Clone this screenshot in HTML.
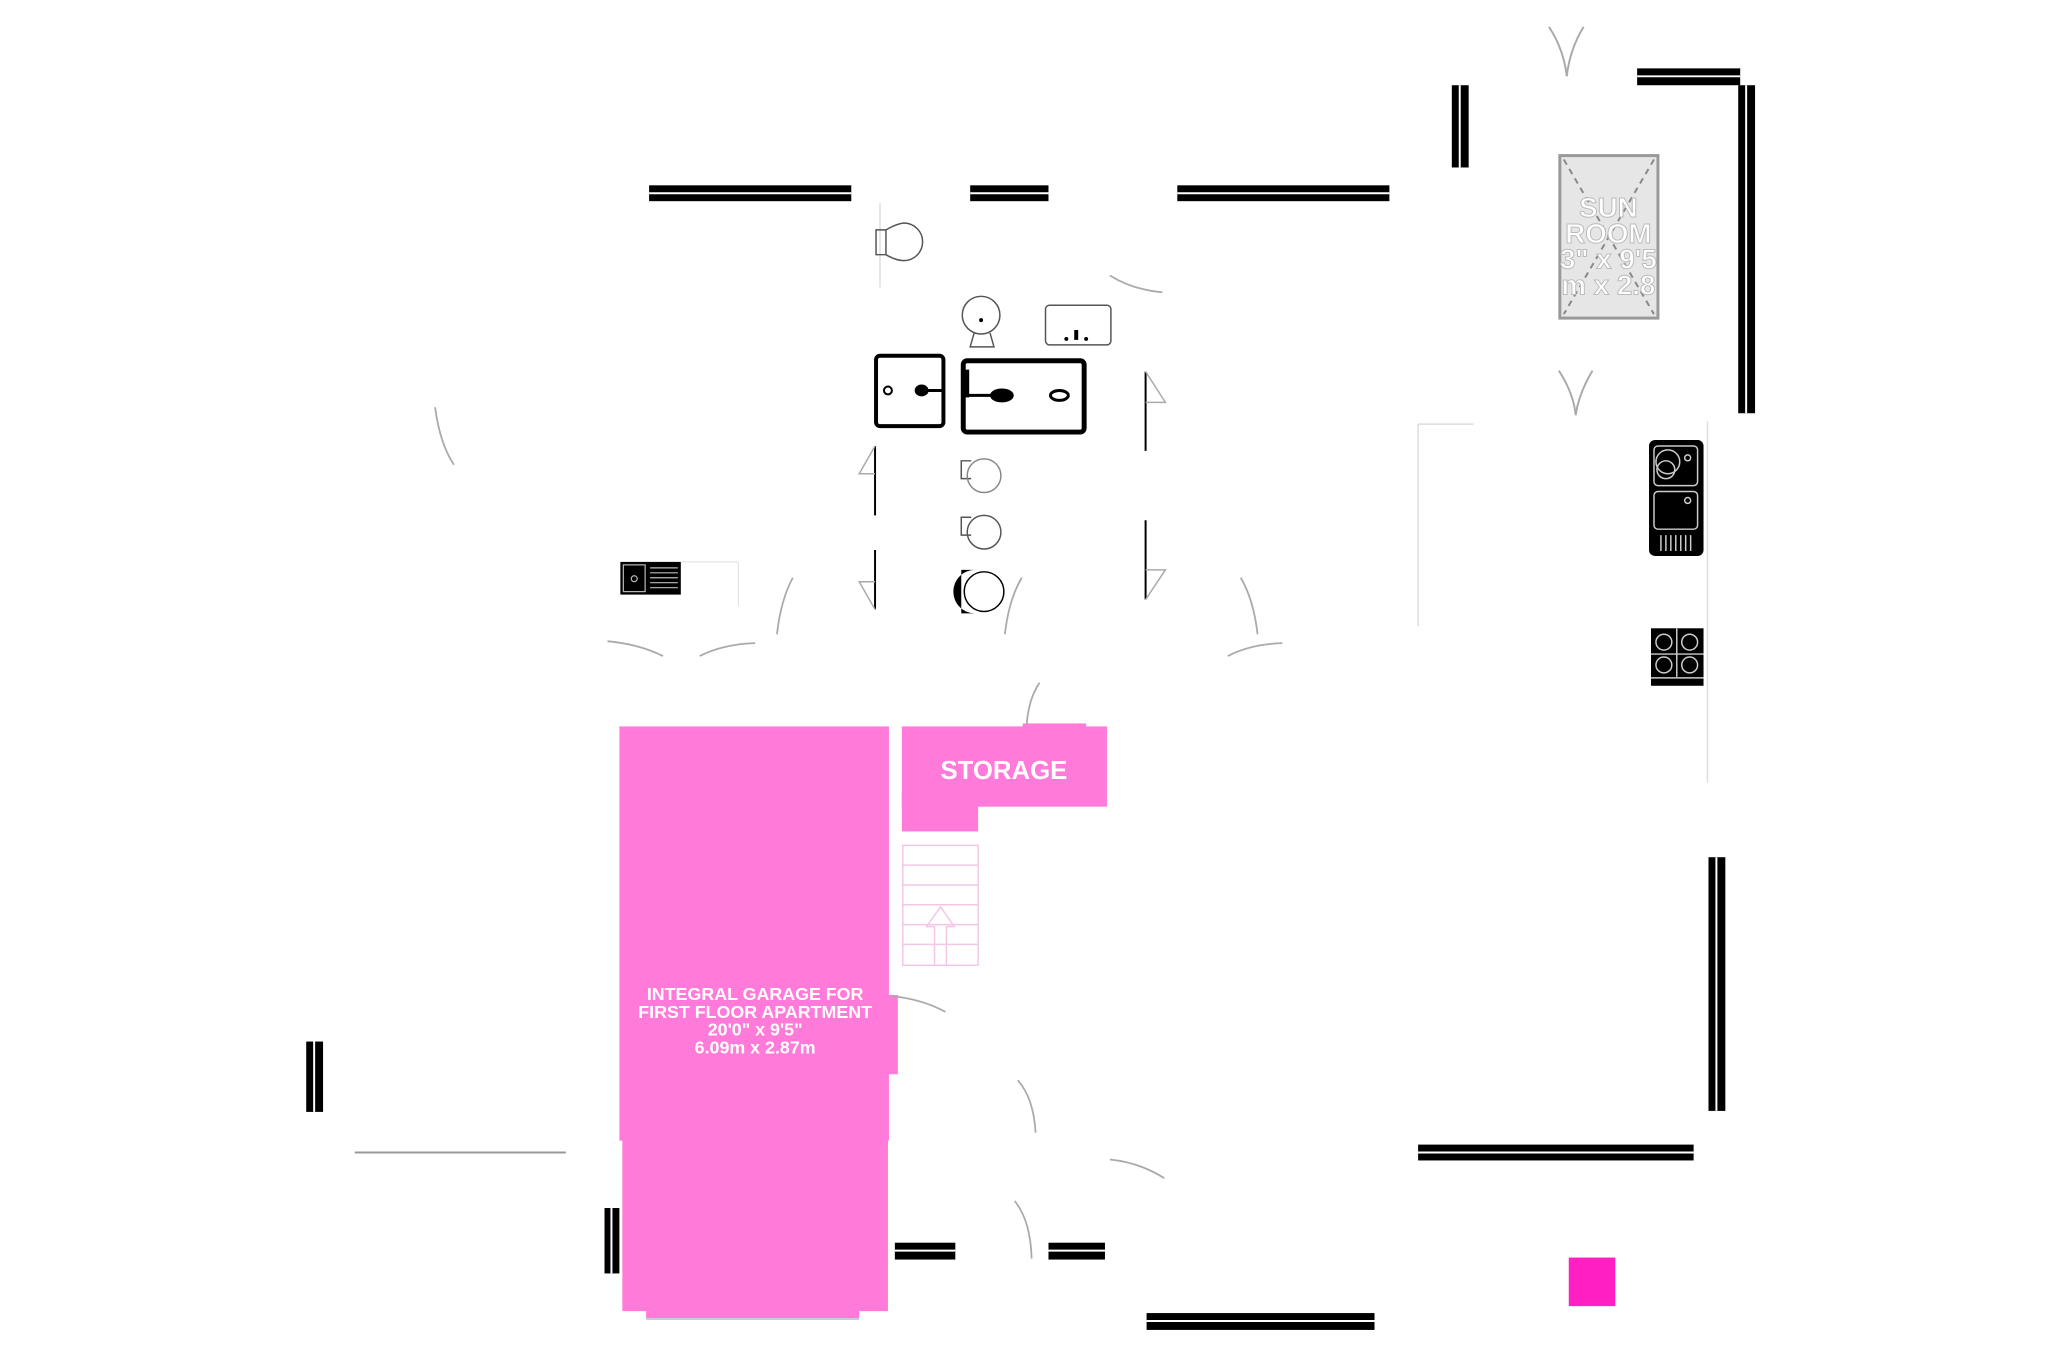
<!DOCTYPE html>
<html><head><meta charset="utf-8"><style>
html,body{margin:0;padding:0;background:#fff;}
svg{display:block}
text{font-family:"Liberation Sans",Arial,sans-serif;font-weight:bold;fill:#fff}
</style></head><body>
<svg width="2057" height="1371" viewBox="0 0 2057 1371" xmlns="http://www.w3.org/2000/svg">
<rect width="2057" height="1371" fill="#fff"/>
<g transform="scale(0.991)">
<!-- walls -->
<g fill="#000">
<rect x="655" y="187" width="204" height="16"/>
<rect x="979" y="187" width="79" height="16"/>
<rect x="1188" y="187" width="214" height="16"/>
<rect x="1465" y="86" width="17" height="83"/>
<rect x="1652" y="69" width="104" height="17"/>
<rect x="1754" y="86" width="17" height="331"/>
<rect x="1724" y="865" width="17" height="256"/>
<rect x="1431" y="1155" width="278" height="16"/>
<rect x="1157" y="1325" width="230" height="17"/>
<rect x="903" y="1254" width="61" height="17"/>
<rect x="1058" y="1254" width="57" height="17"/>
<rect x="610" y="1219" width="15" height="66"/>
<rect x="309" y="1051" width="17" height="71"/>
</g>
<g stroke="#fff" stroke-width="2">
<line x1="655" y1="195" x2="859" y2="195"/><line x1="979" y1="195" x2="1058" y2="195"/><line x1="1188" y1="195" x2="1402" y2="195"/>
<line x1="1473" y1="86" x2="1473" y2="169"/><line x1="1652" y1="77" x2="1756" y2="77"/><line x1="1762" y1="86" x2="1762" y2="417"/>
<line x1="1732" y1="865" x2="1732" y2="1121"/><line x1="1431" y1="1163" x2="1709" y2="1163"/><line x1="1157" y1="1333" x2="1387" y2="1333"/>
<line x1="903" y1="1262" x2="964" y2="1262"/><line x1="1058" y1="1262" x2="1115" y2="1262"/><line x1="617" y1="1219" x2="617" y2="1285"/><line x1="317" y1="1051" x2="317" y2="1122"/>
</g>
<line x1="358" y1="1163" x2="571" y2="1163" stroke="#999" stroke-width="2"/>
<!-- thin lines -->
<g stroke="#ddd" stroke-width="1.5" fill="none">
<line x1="1431" y1="428" x2="1431" y2="632"/><line x1="1431" y1="428" x2="1487" y2="428"/>
<line x1="1723" y1="425" x2="1723" y2="790"/>
<line x1="888" y1="205" x2="888" y2="290"/>
</g>
<!-- garage -->
<g fill="#ff7ad9">
<rect x="625" y="733" width="272" height="418"/>
<rect x="628" y="1145" width="268" height="178"/>
<rect x="652" y="1320" width="215" height="10"/>
<rect x="890" y="1004" width="16" height="80"/>
<rect x="910" y="733" width="207" height="81"/>
<rect x="910" y="800" width="77" height="39"/>
<rect x="1032" y="730" width="64" height="10"/>
</g>
<line x1="652" y1="1331" x2="867" y2="1331" stroke="#ccc" stroke-width="2"/>
<text x="1013" y="786" font-size="26" text-anchor="middle">STORAGE</text>
<g font-size="18" text-anchor="middle">
<text x="762" y="1009">INTEGRAL GARAGE FOR</text>
<text x="762" y="1027">FIRST FLOOR APARTMENT</text>
<text x="762" y="1045">20'0"  x 9'5"</text>
<text x="762" y="1063">6.09m  x 2.87m</text>
</g>
<!-- stairs -->
<g stroke="#f4c6e6" stroke-width="1.5" fill="none">
<rect x="911" y="853" width="76" height="121"/>
<line x1="911" y1="873" x2="987" y2="873"/><line x1="911" y1="893" x2="987" y2="893"/><line x1="911" y1="913" x2="987" y2="913"/><line x1="911" y1="933" x2="987" y2="933"/><line x1="911" y1="953" x2="987" y2="953"/>
<path d="M943 974 V935 H935 L949 915 L963 935 H955 V974"/>
</g>
<!-- sun room -->
<g transform="translate(8,0)">
<rect x="1566" y="157" width="99" height="164" fill="#e6e6e6" stroke="#999" stroke-width="3"/>
<g stroke="#888" stroke-width="2" stroke-dasharray="6,5"><line x1="1570" y1="161" x2="1661" y2="317"/><line x1="1661" y1="161" x2="1570" y2="317"/></g>
<g font-size="28" text-anchor="middle" stroke="#bbb" stroke-width="1" style="fill:#f4f4f4">
<text x="1615" y="219">SUN</text><text x="1615" y="245">ROOM</text><text x="1615" y="271">3" x 9'5</text><text x="1615" y="297">m  x 2.8</text></g>
</g>
<!-- V marks -->
<g stroke="#aaa" stroke-width="2" fill="none">
<path d="M1563 27 Q1578 50 1581 77 Q1584 50 1598 27"/>
<path d="M1573 374 Q1588 397 1590 419 Q1593 397 1607 374"/>
</g>
<!-- kitchen sink -->
<rect x="1664" y="444" width="55" height="117" rx="6" fill="#000"/>
<g stroke="#ccc" stroke-width="1.5" fill="none">
<rect x="1669" y="450" width="44" height="40" rx="4"/><circle cx="1683" cy="466" r="12"/><circle cx="1681" cy="474" r="9"/><circle cx="1703" cy="462" r="3"/>
<rect x="1669" y="496" width="44" height="38" rx="4"/><circle cx="1703" cy="505" r="3"/>
<path d="M1676 540 v16 M1681 540 v16 M1686 540 v16 M1691 540 v16 M1696 540 v16 M1701 540 v16 M1706 540 v16"/>
</g>
<!-- hob -->
<rect x="1666" y="634" width="53" height="58" fill="#000"/>
<g stroke="#ccc" stroke-width="1.5" fill="none">
<circle cx="1679" cy="648" r="8"/><circle cx="1705" cy="648" r="8"/><circle cx="1679" cy="671" r="8"/><circle cx="1705" cy="671" r="8"/>
<line x1="1666" y1="660" x2="1719" y2="660"/><line x1="1692" y1="634" x2="1692" y2="683"/><line x1="1666" y1="684" x2="1719" y2="684"/>
</g>
<!-- left sink -->
<rect x="626" y="567" width="61" height="33" fill="#000"/>
<g stroke="#bbb" stroke-width="1.2" fill="none"><rect x="629" y="570" width="22" height="27"/><circle cx="640" cy="584" r="3"/><path d="M656 573h28M656 578h28M656 583h28M656 588h28M656 593h28"/></g>
<line x1="687" y1="567" x2="745" y2="567" stroke="#ddd"/><line x1="745" y1="567" x2="745" y2="612" stroke="#ddd"/>
<!-- bathroom -->
<g transform="translate(8,0)">
<rect x="876" y="359" width="68" height="71" rx="4" fill="none" stroke="#000" stroke-width="4"/>
<circle cx="888" cy="394" r="4" fill="none" stroke="#000" stroke-width="2"/><ellipse cx="922" cy="394" rx="7" ry="6" fill="#000"/><line x1="922" y1="394" x2="944" y2="394" stroke="#000" stroke-width="3"/>
<rect x="964" y="364" width="122" height="72" rx="4" fill="none" stroke="#000" stroke-width="5"/>
<rect x="962" y="373" width="8" height="28" fill="#000"/>
<ellipse cx="1003" cy="399" rx="12" ry="7" fill="#000"/><line x1="962" y1="399" x2="1000" y2="399" stroke="#000" stroke-width="3"/>
<ellipse cx="1061" cy="399" rx="9" ry="5" fill="none" stroke="#000" stroke-width="3"/>
<g stroke="#555" stroke-width="1.5" fill="none">
<path d="M876 232 h10 v25 h-10z"/><path d="M886 232 q10 -6 18 -7 a19 19 0 1 1 0 38 q-8 0 -18 -6"/>
<circle cx="982" cy="318" r="19"/><path d="M975 336 l-4 14 h24 l-4 -14"/>
<rect x="1047" y="308" width="66" height="40" rx="4"/>
<path d="M972 540 h-10 v-18 h10"/><circle cx="985" cy="537" r="17"/>
<path d="M972 483 h-10 v-18 h10"/><circle cx="985" cy="480" r="17" stroke="#888"/>
</g>
<circle cx="982" cy="323" r="2" fill="#000"/><rect x="1076" y="333" width="4" height="10" fill="#000"/><circle cx="1068" cy="342" r="2" fill="#000"/><circle cx="1088" cy="342" r="2" fill="#000"/>
<path d="M962 575 h14 a20 20 0 0 0 0 44 h-14z" fill="#000"/><circle cx="985" cy="597" r="20" fill="none" stroke="#000" stroke-width="1.5"/>
</g>
<!-- door jambs -->
<g transform="translate(9,0)">
<g stroke="#000" stroke-width="2" fill="none">
<line x1="874" y1="450" x2="874" y2="520"/><line x1="874" y1="555" x2="874" y2="615"/>
<line x1="1147" y1="375" x2="1147" y2="455"/><line x1="1147" y1="525" x2="1147" y2="605"/>
</g>
<g stroke="#aaa" stroke-width="1.5" fill="none">
<path d="M874 450 L858 478 L874 478"/><path d="M874 615 L858 587 L874 587"/>
<path d="M1147 375 L1167 406 L1147 406"/><path d="M1147 605 L1167 575 L1147 575"/>
</g>
</g>
<!-- door arcs -->
<g stroke="#aaa" stroke-width="1.8" fill="none">
<path d="M439 411 Q444 448 458 469"/>
<path d="M613 647 Q645 650 669 662"/>
<path d="M706 662 Q730 650 762 649"/>
<path d="M800 583 Q788 605 784 640"/>
<path d="M1031 583 Q1018 605 1014 640"/>
<path d="M1252 583 Q1265 605 1269 640"/>
<path d="M1239 662 Q1262 650 1294 649"/>
<path d="M1120 278 Q1142 292 1173 295"/>
<path d="M1049 689 Q1038 705 1036 731"/>
<path d="M899 1005 Q930 1008 954 1021"/>
<path d="M1027 1090 Q1043 1108 1045 1143"/>
<path d="M1120 1170 Q1150 1173 1175 1189"/>
<path d="M1024 1212 Q1040 1232 1041 1270"/>
</g>
<!-- pink square -->
<rect x="1583" y="1269" width="47" height="49" fill="#ff1fc3"/>
</g>
</svg>
</body></html>
